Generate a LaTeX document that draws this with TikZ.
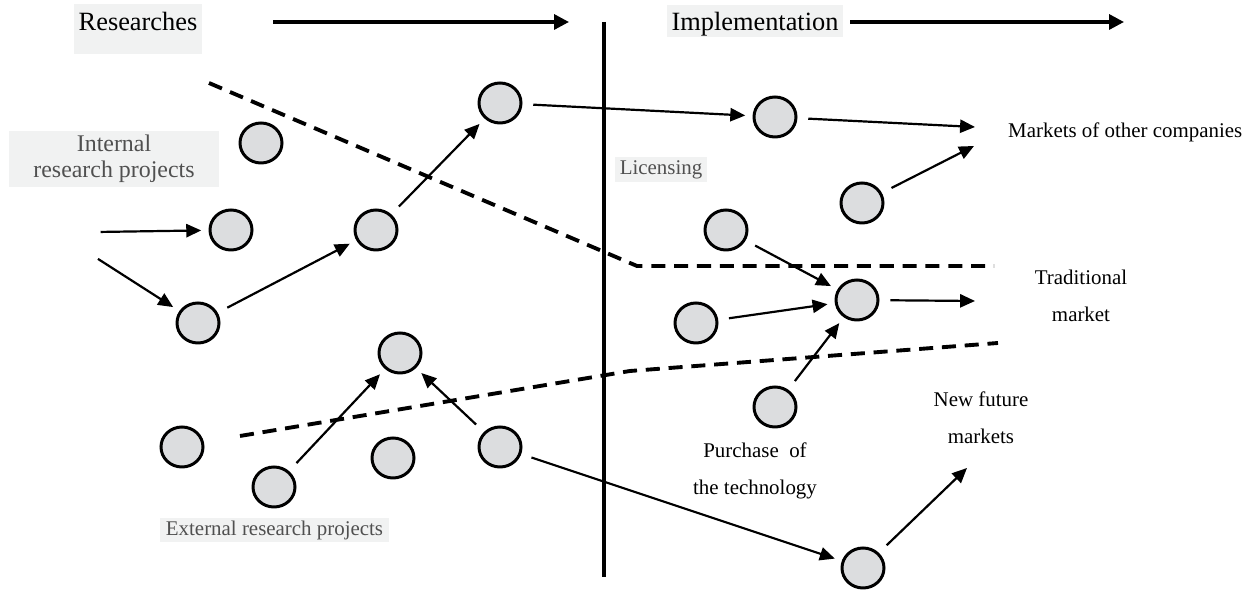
\documentclass[tikz,border=0pt]{standalone}
\usepackage{fontspec}
\setmainfont{Liberation Serif}
\usetikzlibrary{arrows.meta,shapes.geometric}
\definecolor{boxgray}{HTML}{F1F2F2}
\definecolor{bubblegray}{HTML}{DCDDDF}
\definecolor{textgray}{HTML}{505050}

\begin{document}
\begin{tikzpicture}[
  bubble/.style={ellipse,draw,line width=1.7pt,fill=bubblegray,minimum width=0.84cm,minimum height=0.8cm,inner sep=0pt,outer sep=5pt},
  link/.style={-{Triangle[length=8.5pt,width=7.5pt]},line width=1.25pt,shorten <=2pt},
  phase/.style={-{Triangle[length=8.5pt,width=8.5pt]},line width=1.9pt},
  divide/.style={line width=2.2pt,dash pattern=on 8pt off 5pt},
  txt/.style={font=\fontsize{11.9}{21}\selectfont,align=center},
  greybox/.style={fill=boxgray,text=textgray,inner sep=0pt,align=center,font=\fontsize{11.9}{14}\selectfont}
]
  \useasboundingbox (0,0) rectangle (25.08,11.84);

  % Draw the headings
  \node[greybox,text=black,font=\fontsize{15}{18}\selectfont,anchor=base,text height=0.54cm,text depth=0.46cm,inner xsep=0.09cm] (research) at (2.76,11.22) {Researches};
  \node[greybox,text=black,font=\fontsize{15}{18}\selectfont,anchor=base,text height=0.52cm,text depth=0.12cm,inner xsep=0.09cm] (impl) at (15.10,11.22) {Implementation};

  \coordinate (r1) at (5.46,11.40);
  \coordinate (r2) at (11.38,11.40);
  \coordinate (i1) at (17.00,11.40);
  \coordinate (i2) at (22.48,11.40);
  \draw[phase] (r1) -- (r2);
  \draw[phase] (i1) -- (i2);

  % Draw the dividing line
  \coordinate (top) at (12.08,11.40);
  \coordinate (bottom) at (12.08,0.30);
  \draw[line width=1.9pt] (top) -- (bottom);

  % Draw the market borders
  \draw[divide] (4.18,10.18) -- (12.74,6.52) -- (19.88,6.52);
  \draw[divide] (4.80,3.12) -- (12.60,4.42) -- (19.96,4.98);

  % Draw the projects
  \node[bubble] (a) at (5.22,8.98) {};
  \node[bubble] (b) at (4.62,7.24) {};
  \node[bubble] (c) at (7.52,7.24) {};
  \node[bubble] (d) at (10.00,9.78) {};
  \node[bubble] (e) at (3.96,5.38) {};
  \node[bubble] (p) at (8.00,4.78) {};
  \node[bubble] (q) at (3.64,2.90) {};
  \node[bubble] (r) at (5.48,2.10) {};
  \node[bubble] (s) at (7.86,2.68) {};
  \node[bubble] (n) at (10.00,2.90) {};
  \node[bubble] (f) at (15.50,9.50) {};
  \node[bubble] (g) at (17.24,7.78) {};
  \node[bubble] (h) at (14.52,7.24) {};
  \node[bubble] (j) at (17.14,5.84) {};
  \node[bubble] (k) at (13.92,5.38) {};
  \node[bubble] (l) at (15.50,3.70) {};
  \node[bubble] (m) at (17.26,0.48) {};

  % Draw the labels
  \node[greybox,font=\fontsize{13.6}{14.7}\selectfont,minimum width=4.2cm,minimum height=1.12cm] (internal) at (2.28,8.66) {Internal\\research projects};
  \node[greybox,minimum width=1.84cm,minimum height=0.5cm] (licence) at (13.22,8.45) {Licensing};
  \node[greybox,minimum width=4.58cm,minimum height=0.48cm] (external) at (5.49,1.24) {External research projects};
  \node[txt,anchor=west] (other) at (20.04,9.20) {Markets of other companies};
  \node[txt] (trad) at (21.62,5.93) {Traditional\\market};
  \node[txt] (buy) at (15.10,2.43) {Purchase\ \ of\\the technology};
  \node[txt] (future) at (19.62,3.48) {New future\\markets};

  % Draw the flows
  \coordinate (in1) at (1.94,7.20);
  \coordinate (in2) at (1.90,6.70);
  \coordinate (mk1) at (19.50,9.30);
  \coordinate (mk2) at (19.48,8.92);
  \coordinate (tr) at (19.50,5.82);
  \coordinate (nf) at (19.34,2.48);

  \draw[link] (in1) -- (b);
  \draw[link] (in2) -- (e);
  \draw[link] (e) -- (c);
  \draw[link] (c) -- (d);
  \draw[link] (d) -- (f);
  \draw[link] (f) -- (mk1);
  \draw[link] (g) -- (mk2);
  \draw[link] (h) -- (j);
  \draw[link] (k) -- (j);
  \draw[link] (l) -- (j);
  \draw[link] (j) -- (tr);
  \draw[link] (r) -- (p);
  \draw[link] (n) -- (p);
  \draw[link] (n) -- (m);
  \draw[link] (m) -- (nf);

\end{tikzpicture}
\end{document}
